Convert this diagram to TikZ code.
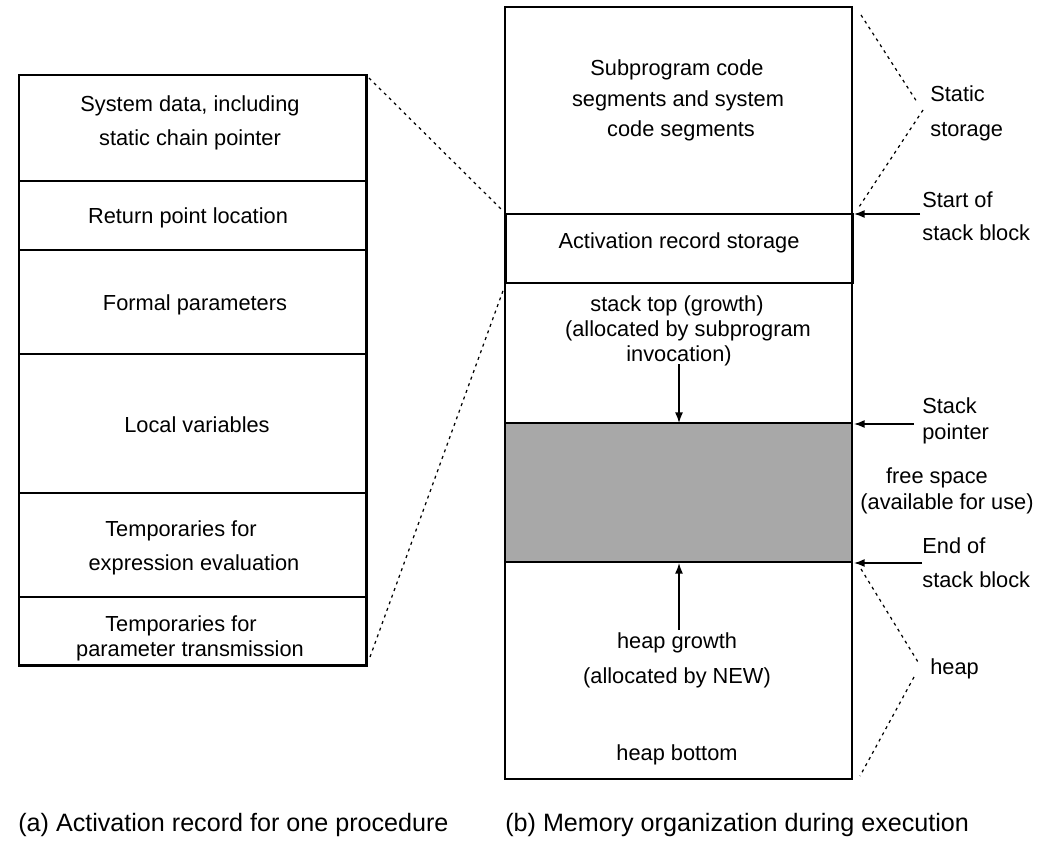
\documentclass[tikz,border=0pt]{standalone}
\usepackage{fontspec}
\setmainfont{Liberation Sans}
\usetikzlibrary{arrows.meta}
\begin{document}
\begin{tikzpicture}[x=0.02cm,y=-0.02cm,
  txt/.style={inner sep=0pt, anchor=base, font=\fontsize{12.4}{14}\selectfont},
  ltxt/.style={txt, anchor=base west},
  captxt/.style={inner sep=0pt, anchor=base west, font=\fontsize{14.3}{16}\selectfont},
  outerbox/.style={draw, line width=1.7pt},
  thinbox/.style={draw, line width=1.1pt},
  divider/.style={line width=0.85pt},
  dashline/.style={line width=0.7pt, dash pattern=on 1.7pt off 2.3pt},
  ptr/.style={line width=0.8pt, -{Latex[length=6pt,width=4.5pt]}},
]
\useasboundingbox (0,0) rectangle (1060,858);

% ---------- (a) activation record ----------
\coordinate (arTL) at (19,75);
\coordinate (arTR) at (366,75);
\coordinate (arBR) at (366,665);
\foreach \yy in {181,250,354,493,597}
  \draw[divider] (19,\yy) -- (366,\yy);
\draw[outerbox] (arTL) rectangle (arBR);

\node[txt] (sys1) at (190,112) {System data, including};
\node[txt] (sys2) at (190,146) {static chain pointer};
\node[txt] (ret)  at (188,223) {Return point location};
\node[txt] (form) at (195,310) {Formal parameters};
\node[txt] (loc)  at (197,432) {Local variables};
\node[txt] (te1)  at (181,536) {Temporaries for};
\node[txt] (te2)  at (194,570) {expression evaluation};
\node[txt] (tp1)  at (181,631) {Temporaries for};
\node[txt] (tp2)  at (190,656) {parameter transmission};

% ---------- (b) memory organisation ----------
\coordinate (memTL) at (505,7);
\coordinate (memBR) at (852,779);
\fill[black!34] (505,423) rectangle (852,562);
\draw[divider] (505,423) -- (852,423);
\draw[divider] (505,562) -- (852,562);
\draw[thinbox] (memTL) rectangle (memBR);
\coordinate (actTL) at (505,214);
\coordinate (actBR) at (852,283);
\draw[outerbox] (actTL) rectangle (actBR);

\node[txt] (sub1) at (677,76)  {Subprogram code};
\node[txt] (sub2) at (678,107) {segments and system};
\node[txt] (sub3) at (681,137) {code segments};
\node[txt] (act)  at (679,248) {Activation record storage};
\node[txt] (st1)  at (677,311) {stack top (growth)};
\node[txt] (st2)  at (688,336) {(allocated by subprogram};
\node[txt] (st3)  at (679,361) {invocation)};
\node[txt] (hg1)  at (677,648) {heap growth};
\node[txt] (hg2)  at (677,683) {(allocated by NEW)};
\node[txt] (hb)   at (677,760) {heap bottom};

% growth arrows
\coordinate (stA) at (679,364);
\coordinate (stB) at (679,423);
\draw[ptr] (stA) -- (stB);
\coordinate (hgA) at (679,630);
\coordinate (hgB) at (679,563);
\draw[ptr] (hgA) -- (hgB);

% right-hand labels
\node[ltxt] (sta1) at (930,102) {Static};
\node[ltxt] (sta2) at (930,137) {storage};
\node[ltxt] (sos1) at (922,207) {Start of};
\node[ltxt] (sos2) at (922,240) {stack block};
\node[ltxt] (sp1)  at (922,413) {Stack};
\node[ltxt] (sp2)  at (922,439) {pointer};
\node[txt]  (fs1)  at (937,483) {free space};
\node[txt]  (fs2)  at (947,509) {(available for use)};
\node[ltxt] (eos1) at (922,553) {End of};
\node[ltxt] (eos2) at (922,587) {stack block};
\node[ltxt] (hp)   at (930,674) {heap};

% pointer arrows
\coordinate (sosA) at (920,214);
\coordinate (sosB) at (854,214);
\draw[ptr] (sosA) -- (sosB);
\coordinate (spA) at (914,424);
\coordinate (spB) at (854,424);
\draw[ptr] (spA) -- (spB);
\coordinate (eosA) at (922,563);
\coordinate (eosB) at (854,563);
\draw[ptr] (eosA) -- (eosB);

% brace-like dashed lines
\coordinate (s1) at (861,15);  \coordinate (s2) at (917,102);
\coordinate (s3) at (923,110); \coordinate (s4) at (859,207);
\draw[dashline] (s1) -- (s2);
\draw[dashline] (s3) -- (s4);
\coordinate (h1) at (861,569); \coordinate (h2) at (918,662);
\coordinate (h3) at (914,677); \coordinate (h4) at (860,776);
\draw[dashline] (h1) -- (h2);
\draw[dashline] (h3) -- (h4);

% dashed links between (a) and (b)
\coordinate (lk1) at (369,78);
\coordinate (lk2) at (502,210);
\draw[dashline] (lk1) -- (lk2);
\coordinate (lk3) at (370,657);
\coordinate (lk4) at (504,288);
\draw[dashline] (lk3) -- (lk4);

% captions
\node[captxt] (capa) at (18,831) {(a) Activation record for one procedure};
\node[captxt] (capb) at (505,831) {(b) Memory organization during execution};
\end{tikzpicture}
\end{document}
